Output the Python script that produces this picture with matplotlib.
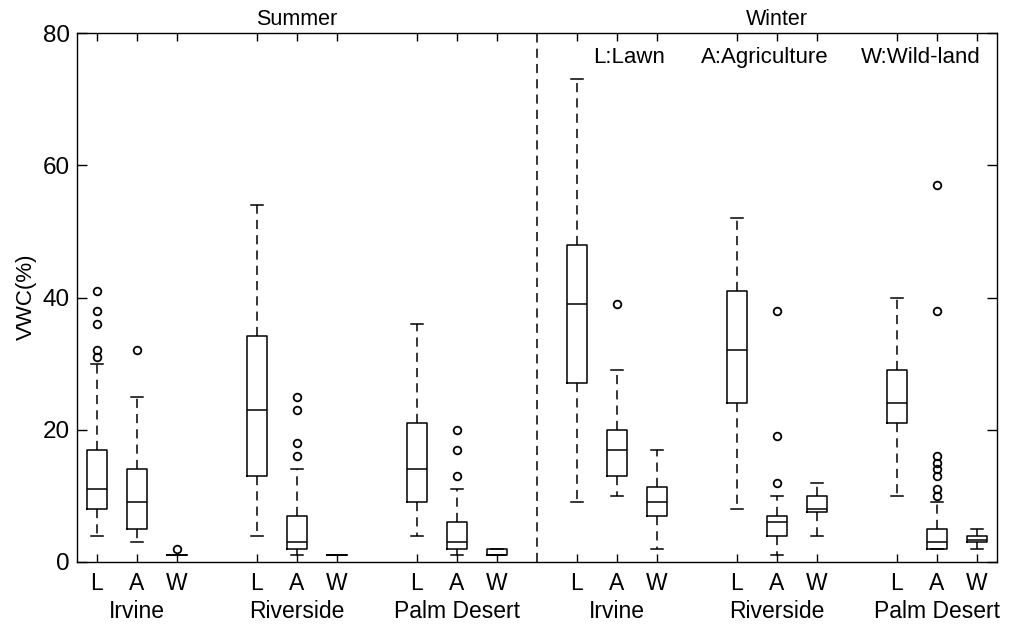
import matplotlib
matplotlib.use("Agg")
import matplotlib.pyplot as plt

plt.rcParams['font.family'] = ['Liberation Sans', 'DejaVu Sans']

# ---- data ----
seasons = ["Summer", "Winter"]
sites = ["Irvine", "Riverside", "Palm Desert"]
land_types = ["L", "A", "W"]
legend_texts = ["L:Lawn", "A:Agriculture", "W:Wild-land"]

# order: Summer(Irvine L,A,W; Riverside L,A,W; Palm Desert L,A,W), Winter(same)
whislo = [4, 3, 1,   4, 1, 1,   4, 1, 1,
          9, 10, 2,  8, 1, 4,   10, 2, 2]
q1     = [8, 5, 1,   13, 2, 1,  9, 2, 1,
          27, 13, 7, 24, 4, 7.5, 21, 2, 3]
med    = [11, 9, 1,  23, 3, 1,  14, 3, 1,
          39, 17, 9, 32, 6, 8,  24, 3, 3.4]
q3     = [17, 14, 1, 34.2, 7, 1, 21, 6, 2,
          48, 20, 11.4, 41, 7, 10, 29, 5, 4]
whishi = [30, 25, 1, 54, 14, 1, 36, 11, 2,
          73, 29, 17, 52, 10, 12, 40, 9, 5]
fliers = [[31, 32, 36, 38, 41], [32], [2],
          [], [16, 18, 23, 25], [],
          [], [13, 17, 20], [],
          [], [39], [],
          [], [12, 19, 38], [],
          [], [10, 11, 13, 14, 15, 16, 38, 57], []]

yticks = [0, 20, 40, 60, 80]

# ---- figure ----
fig = plt.figure(figsize=(10.17, 6.25), dpi=100)
ax = fig.add_axes([77/1017, 1-562/625, (997-77)/1017, (562-33)/625])

n_types = len(land_types)
positions = []
stats = []
for i in range(len(med)):
    g, t = divmod(i, n_types)
    positions.append(1 + (n_types + 1) * g + t)
    stats.append(dict(whislo=whislo[i], q1=q1[i], med=med[i], q3=q3[i],
                      whishi=whishi[i], fliers=fliers[i]))

lw = 1.1
ax.bxp(stats, positions=positions, widths=0.5, capwidths=0.3,
       showfliers=True,
       boxprops=dict(color='black', linewidth=lw),
       medianprops=dict(color='black', linewidth=lw),
       whiskerprops=dict(color='black', linewidth=lw, linestyle=(0, (6, 4))),
       capprops=dict(color='black', linewidth=lw),
       flierprops=dict(marker='o', markerfacecolor='none',
                       markeredgecolor='black', markersize=5.5,
                       markeredgewidth=1.3))

ax.set_xlim(0.5, positions[-1] + 0.5)
ax.set_ylim(0, 80)

# separator between seasons
n_sites = len(sites)
sep = (positions[n_sites * n_types - 1] + positions[n_sites * n_types]) / 2
ax.axvline(sep, color='black', linewidth=lw, linestyle=(0, (6, 4)))

ax.set_xticks(positions)
ax.set_xticklabels(land_types * (len(sites) * len(seasons)), fontsize=16.5)
ax.set_yticks(yticks)
ax.set_yticklabels([str(v) for v in yticks], fontsize=17.5)
ax.tick_params(axis='x', direction='in', length=6, width=1, top=True, pad=7)
ax.tick_params(axis='y', direction='in', length=7, width=1, right=True, pad=5)
for s in ax.spines.values():
    s.set_linewidth(1)

xtr = ax.get_xaxis_transform()
# site names
for g in range(len(sites) * len(seasons)):
    center = positions[g * n_types + 1]
    ax.annotate(sites[g % len(sites)], xy=(center, 0), xycoords=xtr,
                xytext=(0, -36), textcoords='offset points',
                ha='center', va='center', fontsize=16.5)
# season titles
for si, season in enumerate(seasons):
    center = positions[si * n_sites * n_types + (n_sites * n_types) // 2]
    ax.annotate(season, xy=(center, 1), xycoords=xtr,
                xytext=(0, 9.5), textcoords='offset points',
                ha='center', va='center', fontsize=15.5)

# legend texts
leg_x = [14.3, 17.7, 21.6]
for tx, x in zip(legend_texts, leg_x):
    ax.text(x, 76.3, tx, ha='center', va='center', fontsize=16)

fig.text(26/1017, 1-297/625, "VWC(%)", rotation=90, ha='center', va='center',
         fontsize=16)

fig.savefig("out.png", dpi=100)
